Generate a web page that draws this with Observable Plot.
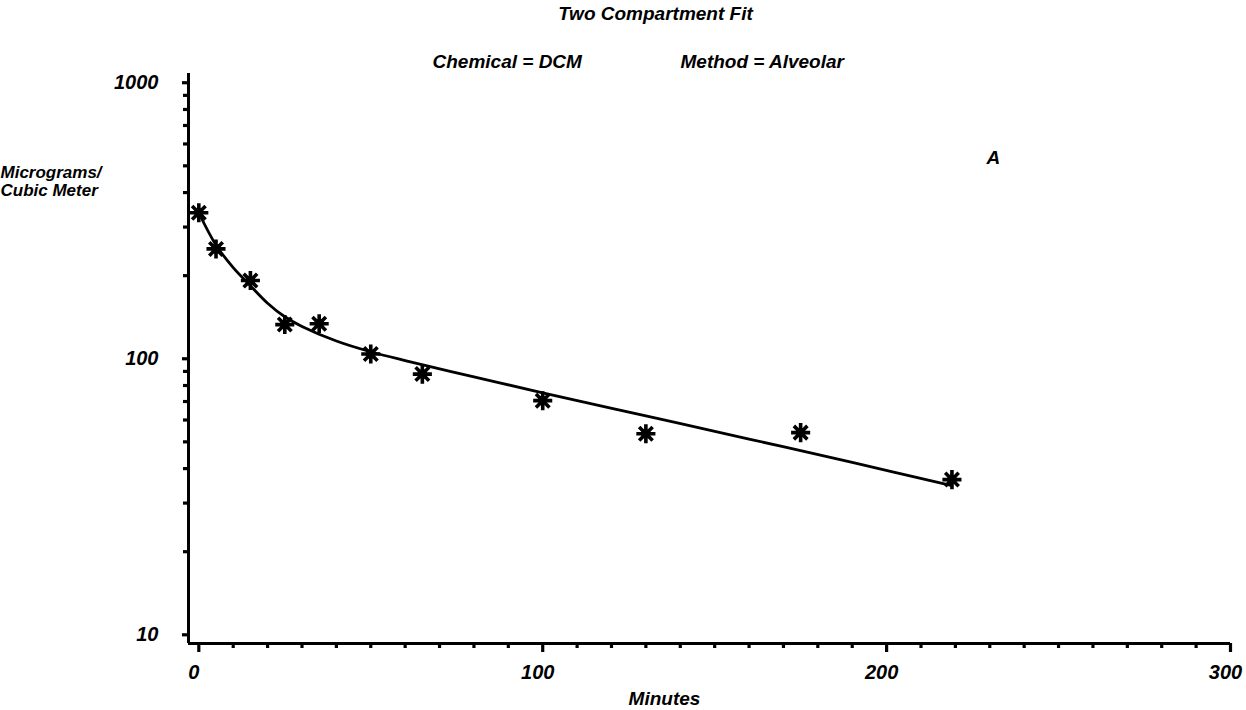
<!DOCTYPE html>
<html>
<head>
<meta charset="utf-8">
<script src="https://cdn.jsdelivr.net/npm/d3@7"></script>
<script src="https://cdn.jsdelivr.net/npm/@observablehq/plot@0.6"></script>
<style>
  html, body { margin: 0; padding: 0; background: #fff; }
  #chart svg { display: block; }
</style>
</head>
<body>
<div id="chart"></div>
<script>
// Observed concentrations
const minutes = [0, 5, 15, 25, 35, 50, 65, 100, 130, 175, 219];
const concentration = [338, 250, 192, 133, 134, 104, 88, 70.5, 53.5, 54, 36.5];

// Fitted two-compartment curve
const fitMinutes = [0, 5, 10, 15, 20, 25, 30, 40, 50, 60, 80, 100, 130, 160, 190, 219];
const fitConcentration = [338, 258, 214, 184, 159, 142, 131, 116, 106, 98.5, 86, 75.3, 62.1, 51.2, 42.1, 34.7];

// Ticks
const xTicks = [0, 100, 200, 300];
const xMinorTicks = [10,20,30,40,50,60,70,80,90,110,120,130,140,150,160,170,180,190,210,220,230,240,250,260,270,280,290];
const yTicks = [10, 100, 1000];
const yMinorTicks = [20,30,40,50,60,70,80,90,200,300,400,500,600,700,800,900];

// Texts
const titleText = "Two Compartment Fit";
const chemicalText = "Chemical = DCM";
const methodText = "Method = Alveolar";
const panelText = "A";
const xLabel = "Minutes";
const yLabel = "Micrograms/\nCubic Meter";

const points = minutes.map((m, i) => ({minutes: m, value: concentration[i]}));
const fit = fitMinutes.map((m, i) => ({minutes: m, value: fitConcentration[i]}));

const xMin = -3, yMin = 9.3;
const font = {fontFamily: "'Liberation Sans', Arial, sans-serif", fontStyle: "italic", fontWeight: "bold"};

const chart = Plot.plot({
  width: 1246,
  height: 710,
  marginLeft: 188,
  marginRight: 16,
  marginTop: 73,
  marginBottom: 67,
  style: {background: "#fff", color: "#000", fontFamily: font.fontFamily, fontStyle: "italic", fontWeight: "bold", fontSize: "19px"},
  x: {domain: [xMin, 300], label: null, axis: null},
  y: {type: "log", domain: [yMin, 1080], label: null, axis: null},
  marks: [
    // axis lines
    Plot.ruleX([xMin], {stroke: "#000", strokeWidth: 3}),
    Plot.ruleY([yMin], {stroke: "#000", strokeWidth: 3}),
    // y ticks (pointing left)
    Plot.ruleY(yMinorTicks, {x1: xMin, x2: xMin, insetLeft: -5, stroke: "#000", strokeWidth: 3.2}),
    Plot.ruleY(yTicks, {x1: xMin, x2: xMin, insetLeft: -6, stroke: "#000", strokeWidth: 3.2}),
    // x ticks (pointing down)
    Plot.ruleX(xMinorTicks, {y1: yMin, y2: yMin, insetBottom: -5, stroke: "#000", strokeWidth: 3.2}),
    Plot.ruleX(xTicks, {y1: yMin, y2: yMin, insetBottom: -9, stroke: "#000", strokeWidth: 3.2}),
    // tick labels
    Plot.axisY(yTicks, {anchor: "left", tickSize: 0, tickPadding: 30, tickFormat: d => String(d), label: null, fontSize: 20, ...font}),
    Plot.axisX(xTicks, {anchor: "bottom", tickSize: 0, tickPadding: 21, tickFormat: d => String(d), label: null, dx: -5, fontSize: 20, ...font}),
    // fitted curve
    Plot.line(fit, {x: "minutes", y: "value", curve: "catmull-rom", stroke: "#000", strokeWidth: 2.8}),
    // observed points (heavy asterisks)
    Plot.dot(points, {x: "minutes", y: "value", symbol: "square", r: 5, fill: "#000"}),
    Plot.dot(points, {x: "minutes", y: "value", symbol: "plus", r: 6.2, stroke: "#000", strokeWidth: 3.6}),
    Plot.dot(points, {x: "minutes", y: "value", symbol: "times", r: 6.2, stroke: "#000", strokeWidth: 3.6}),
    // texts
    Plot.text([titleText], {frameAnchor: "top", dx: -54, dy: -67, fontSize: 19, ...font}),
    Plot.text([chemicalText], {frameAnchor: "top-left", textAnchor: "start", dx: 244, dy: -19, fontSize: 19, ...font}),
    Plot.text([methodText], {frameAnchor: "top-left", textAnchor: "start", dx: 492, dy: -19, fontSize: 19, ...font}),
    Plot.text([panelText], {frameAnchor: "top-left", dx: 798, dy: 77, fontSize: 19, ...font}),
    Plot.text([yLabel], {frameAnchor: "top-left", textAnchor: "start", dx: -188, dy: 92, fontSize: 17, lineHeight: 1.05, ...font}),
    Plot.text([xLabel], {frameAnchor: "bottom", dx: -45, dy: 61, fontSize: 19, ...font})
  ]
});

document.getElementById("chart").appendChild(chart);
</script>
</body>
</html>
